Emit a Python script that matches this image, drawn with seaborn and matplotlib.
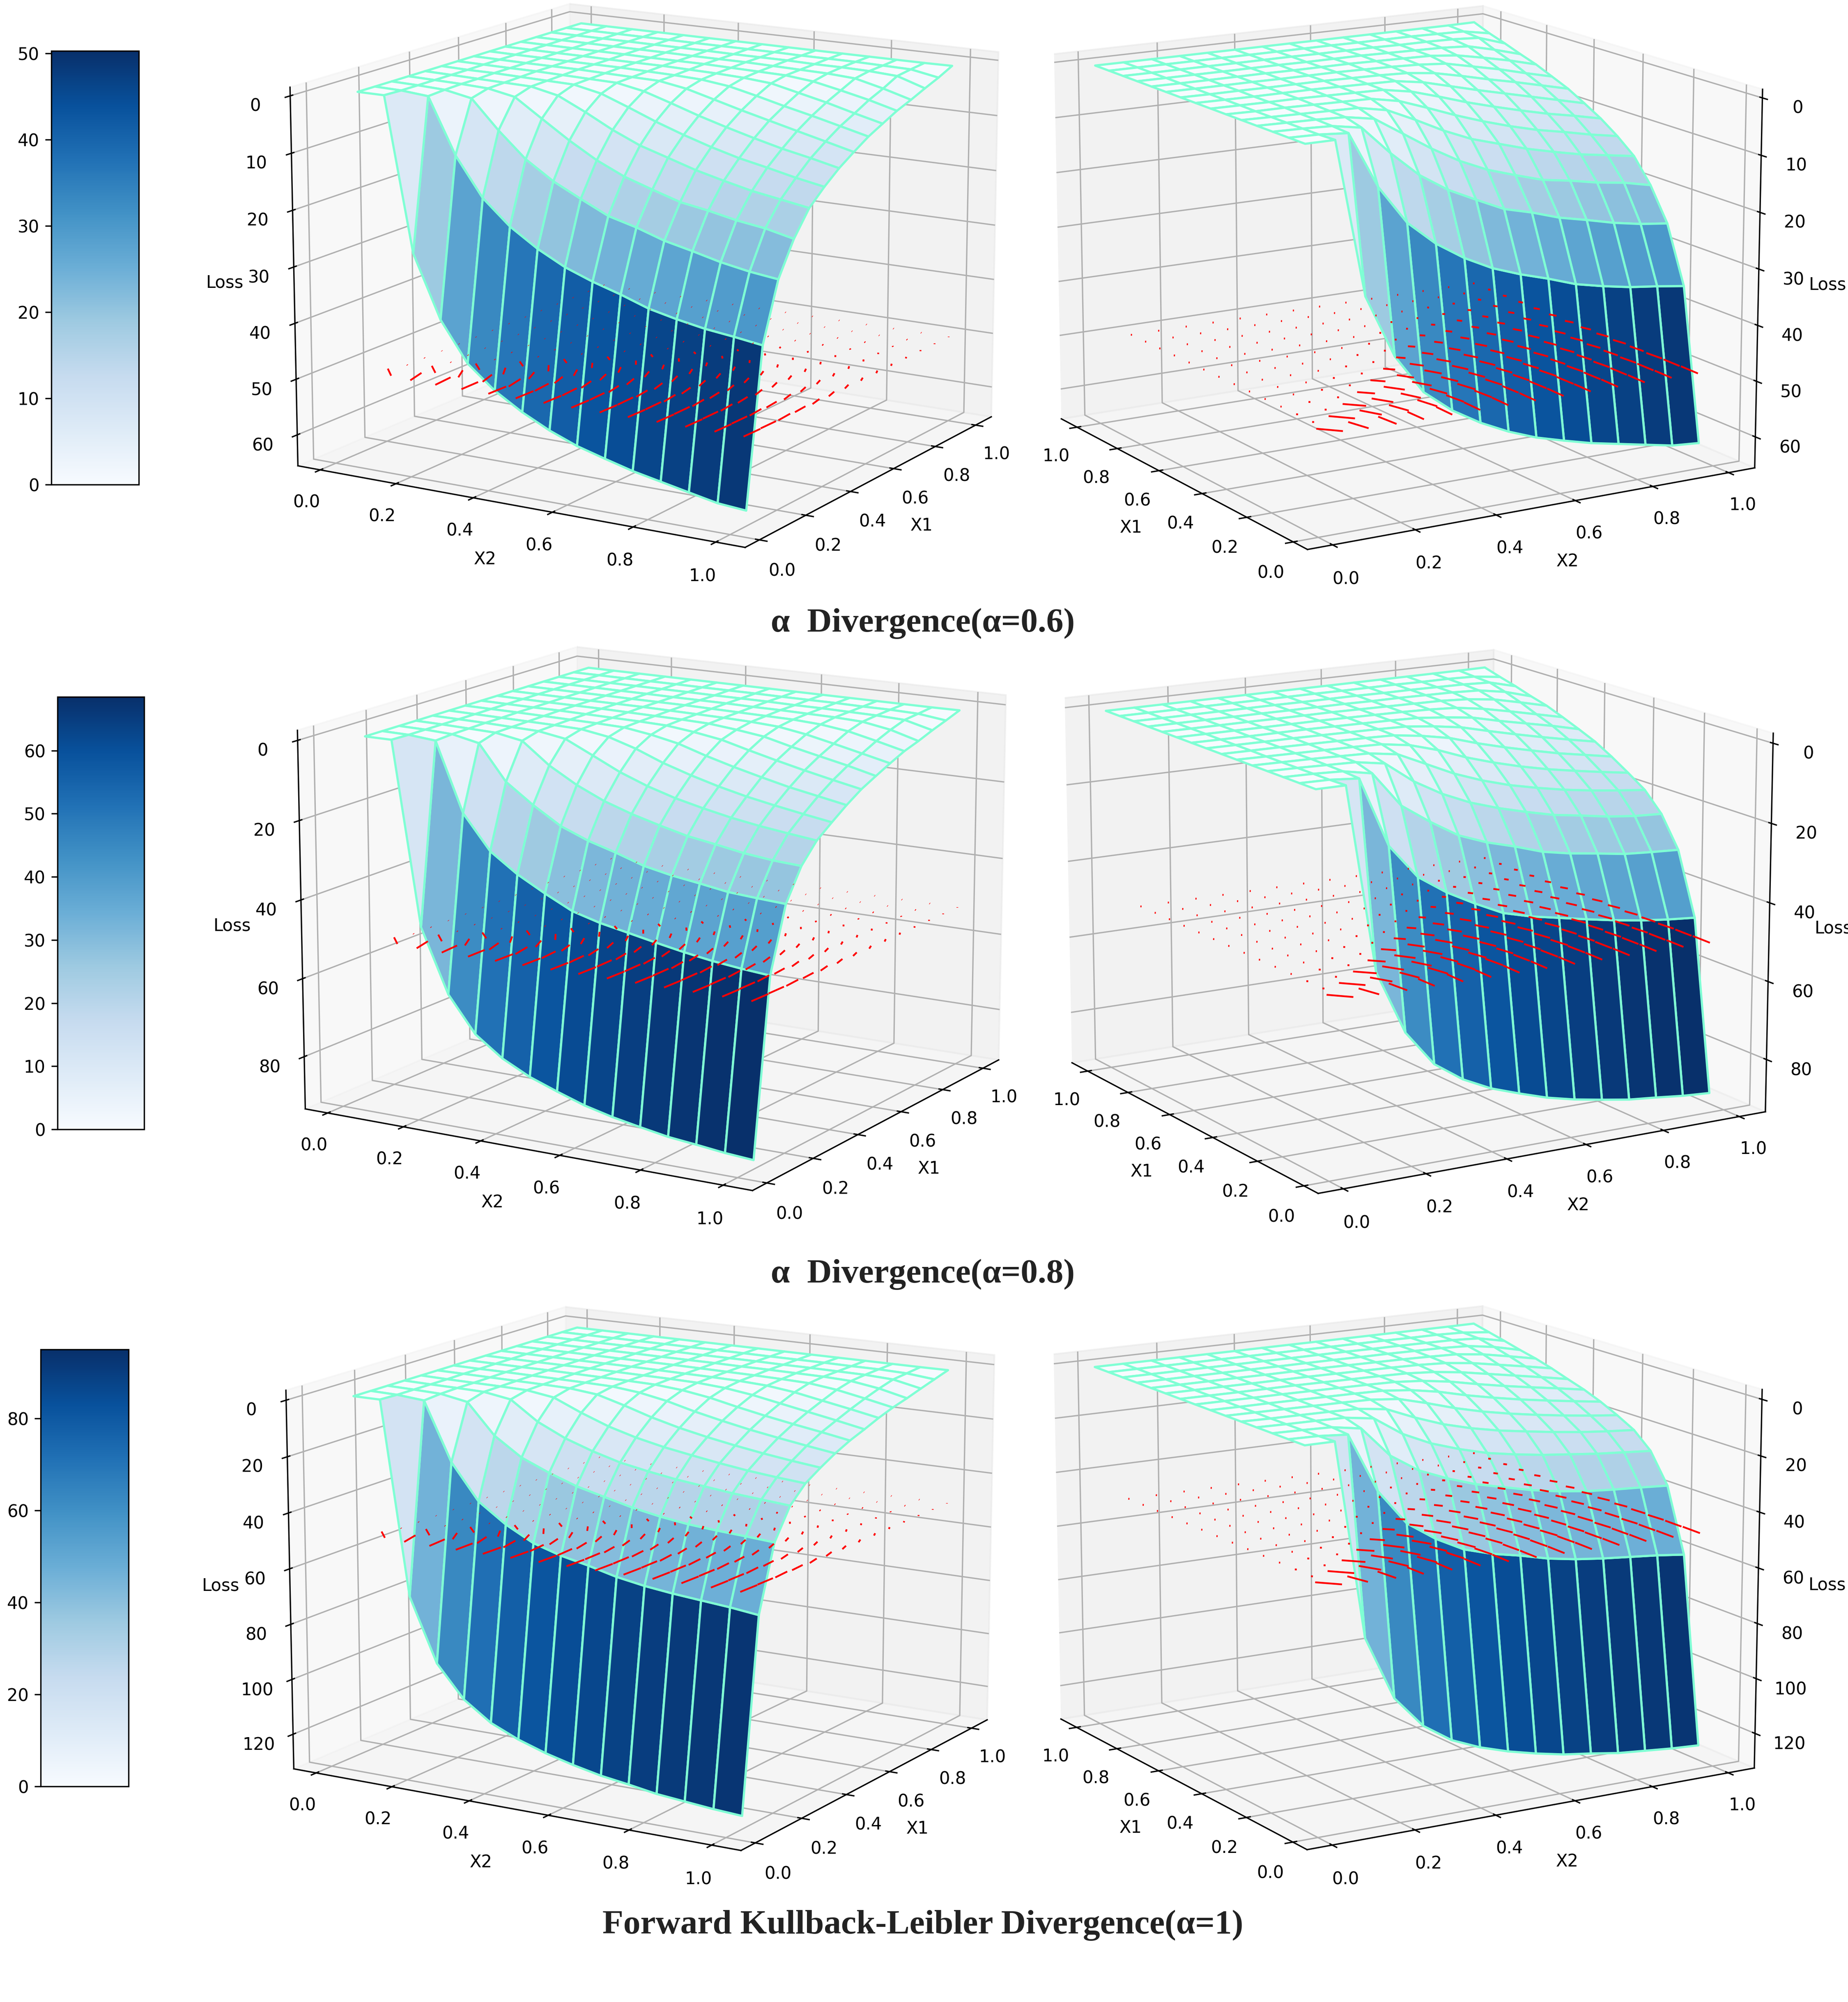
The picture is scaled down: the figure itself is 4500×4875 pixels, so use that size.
import numpy as np
import matplotlib
matplotlib.use("Agg")
import matplotlib.pyplot as plt
from matplotlib.cm import ScalarMappable
from matplotlib.colors import Normalize
import seaborn as sns

sns.reset_orig()

TITLES = ["α  Divergence(α=0.6)", "α  Divergence(α=0.8)", "Forward Kullback-Leibler Divergence(α=1)"]
LEFT_X2 = [.04,.109,.179,.248,.317,.386,.456,.525,.594,.664,.733,.802,.871,.941,1.01]
LEFT_X1 = [.05,.116,.181,.247,.313,.379,.444,.51,.576,.641,.707,.773,.839,.904,.97]
RIGHT_X2 = [.002,.073,.144,.215,.286,.357,.428,.499,.57,.641,.712,.783,.854,.925,.996]
RIGHT_X1 = [0.05, 0.118, 0.186, 0.254, 0.321, 0.389, 0.457, 0.525, 0.593, 0.661, 0.729, 0.796, 0.864, 0.932, 1.0]

LOSS_A = [
 [0,0,27,38,45,49,52,54.4,56.3,57.7,59,60,61,62,62.4],
 [0,.1,.5,10.2,17,21.3,24.5,27,28.8,30.3,32,33.1,34,34.6,35.3],
 [0,.1,.3,1.2,6.2,10.6,13.8,16.2,18.5,19.8,21.4,22.5,23.7,24.6,25.2],
 [0,.1,.2,.4,1.3,4.5,7.7,10.5,12.7,14.3,15.8,16.6,17.6,18.3,19.4],
 [0,.1,.2,.3,.4,1.4,3.7,6.2,8.3,9.8,11.3,12.5,13.6,14.4,15.2],
 [0,.1,.1,.2,.3,.4,1.4,3.2,5.1,6.8,8.3,9.6,10.6,11.7,12.6],
 [0,.05,.1,.1,.2,.3,.4,1.3,2.8,4.4,5.8,7.1,8.3,9.3,10.4],
 [0,.05,.1,.1,.1,.2,.3,.4,1.2,2.5,3.8,5,6.2,7.4,8.6],
 [0,.05,.05,.1,.1,.1,.2,.3,.5,1.1,2.2,3.4,4.5,5.7,6.9],
 [0,.03,.05,.05,.1,.1,.1,.2,.3,.5,.9,2,3.1,4.4,5.6],
 [0,.03,.05,.05,.05,.1,.1,.1,.2,.3,.4,.9,1.9,3,4.3],
 [0,.02,.03,.05,.05,.05,.1,.1,.1,.2,.3,.4,.7,1.9,3.3],
 [0,.02,.03,.03,.05,.05,.05,.1,.1,.1,.2,.2,.3,.6,2.2],
 [0,.01,.02,.03,.03,.05,.05,.05,.05,.1,.1,.1,.2,.3,1.2],
 [0,.01,.01,.02,.02,.03,.03,.03,.05,.05,.05,.05,.05,.05,0],
]
LOSS_B = [
 [0,0,46,62,71,76,79.5,82,84.3,86,87.3,88.5,89.2,90,90.5],
 [0,.1,.7,17.9,26.5,31.3,35.1,38.5,40.4,41.8,43.2,44.5,45.6,46.4,47],
 [0,.1,.4,1.8,10.6,15.5,19.8,22.5,24.5,26.8,28.2,29.2,30.3,30.8,31.2],
 [0,.1,.3,.5,1.7,7,11,14.1,16.4,18.3,20,21.1,22.3,23.1,23.5],
 [0,.1,.2,.4,.6,1.7,5,8.3,10.9,13,14.6,16,17.1,18,18.8],
 [0,.1,.2,.3,.4,.6,1.7,3.8,6.5,8.7,10.6,12.2,13.5,14.7,15.8],
 [0,.05,.1,.2,.3,.4,.6,1.6,3,5.2,7.1,8.8,10.4,11.7,13],
 [0,.05,.1,.1,.2,.3,.4,.6,1.4,2.5,4.3,6,7.6,9.1,10.5],
 [0,.05,.1,.1,.1,.2,.3,.4,.6,1.3,2.2,3.9,5.4,6.9,8.6],
 [0,.03,.05,.1,.1,.1,.2,.3,.4,.6,1,2.1,3.6,5.2,6.8],
 [0,.03,.05,.05,.1,.1,.1,.2,.3,.4,.5,.9,1.8,3.4,5.1],
 [0,.02,.03,.05,.05,.1,.1,.1,.2,.2,.3,.4,.7,1.9,3.9],
 [0,.02,.03,.03,.05,.05,.1,.1,.1,.2,.2,.3,.4,.7,2.5],
 [0,.01,.02,.03,.03,.05,.05,.05,.1,.1,.1,.2,.2,.4,1.3],
 [0,.01,.01,.02,.02,.03,.03,.03,.05,.05,.05,.05,.05,.05,0],
]
LOSS_C = [
 [0,0,68.7,91.3,102.7,109.5,113.8,117,119.5,121.6,123,124.6,125.5,126.4,127],
 [0,.2,1,21.6,34.2,41,46.2,49.2,51.3,53.8,55.5,56.7,57.6,58.5,59.7],
 [0,.2,.5,2.2,12.9,19.4,23.5,26.9,29.3,31.7,33.5,34.8,35.6,36.2,36.9],
 [0,.2,.3,.5,2,8.7,13.3,16.6,19.3,21.1,22.6,23.7,24.8,25.6,26.4],
 [0,.2,.3,.4,.6,2,6.2,9.8,12.5,14.6,16.2,17.7,19,20,20.8],
 [0,.1,.2,.3,.4,.6,1.6,4.3,7.3,9.8,11.8,13.5,15,16.3,17.4],
 [0,.1,.1,.2,.3,.4,.6,1.6,3.4,5.9,8,9.9,11.5,13,14.4],
 [0,.05,.1,.1,.2,.3,.4,.6,1.4,2.9,5,6.9,8.6,10.2,11.9],
 [0,.05,.1,.1,.1,.2,.3,.4,.6,1.3,2.6,4.4,6.2,8,9.9],
 [0,.03,.05,.1,.1,.1,.2,.3,.4,.6,1.1,2.3,4.1,5.9,7.8],
 [0,.03,.05,.05,.1,.1,.1,.2,.3,.4,.6,.9,2.1,4,6],
 [0,.02,.03,.05,.05,.1,.1,.1,.2,.2,.3,.4,.8,2.3,4.6],
 [0,.02,.03,.03,.05,.05,.1,.1,.1,.2,.2,.3,.4,.9,3],
 [0,.01,.02,.03,.03,.05,.05,.05,.1,.1,.1,.2,.2,.5,1.5],
 [0,.01,.01,.02,.02,.03,.03,.03,.05,.05,.05,.05,.05,.05,0],
]

STEP_X1 = [
 [.0445,.0633,.068,.0672,.0687,.0687,.0687,.0687,.0687,.0687,.0687,.0687,.0687,.0687],
 [.003,.0445,.0535,.0592,.0648,.0644,.0654,.0631,.0668,.0668,.066,.065,.065,.0645],
 [.003,.003,.039,.0489,.0527,.0533,.058,.0557,.057,.0598,.058,.058,.0575,.0574],
 [.002,.003,.003,.0296,.0443,.048,.0487,.05,.0511,.052,.0516,.052,.0518,.0516],
 [.002,.002,.003,.003,.0252,.0371,.0422,.0445,.046,.046,.0455,.045,.044,.0424],
 [.002,.002,.002,.003,.003,.02,.03,.035,.038,.0395,.0395,.039,.0385,.0383],
 [.002,.002,.002,.002,.003,.003,.016,.024,.028,.031,.032,.032,.032,.031],
 [.002,.002,.002,.002,.002,.003,.003,.012,.018,.021,.023,.024,.024,.0236],
 [.002,.002,.002,.002,.002,.002,.003,.003,.009,.014,.017,.019,.02,.0202],
 [.002,.002,.002,.002,.002,.002,.002,.003,.003,.007,.011,.014,.015,.016],
 [.002,.002,.002,.002,.002,.002,.002,.002,.003,.003,.005,.008,.011,.012],
 [.002,.002,.002,.002,.002,.002,.002,.002,.002,.002,.003,.004,.007,.009],
 [.002,.002,.002,.002,.002,.002,.002,.002,.002,.002,.002,.002,.003,.0063],
 [.002,.002,.002,.002,.002,.002,.002,.002,.002,.002,.002,.002,.002,.004],
]
STEP_X2 = [
 [-.039,-.013,-.005,-.0006,.0017,.0017,.0017,.0017,.0017,.0017,.0017,.0017,.0017,.0017],
 [-.003,-.039,-.0235,-.014,-.0107,-.0054,-.0038,-.0016,-.0015,-.001,-.0005,0,.0005,.0008],
 [-.003,-.003,-.0356,-.0252,-.0189,-.012,-.0103,-.0081,-.0057,-.0066,-.005,-.0045,-.004,-.0033],
 [-.002,-.003,-.003,-.0276,-.0269,-.0206,-.0138,-.0115,-.0098,-.0083,-.006,-.0055,-.004,-.0029],
 [-.002,-.002,-.003,-.003,-.0233,-.0212,-.0187,-.0147,-.0124,-.011,-.0095,-.0085,-.0075,-.0064],
 [-.002,-.002,-.002,-.003,-.003,-.019,-.018,-.016,-.014,-.012,-.0105,-.0095,-.0085,-.0074],
 [-.002,-.002,-.002,-.002,-.003,-.003,-.015,-.015,-.013,-.012,-.0105,-.0095,-.0085,-.0077],
 [-.002,-.002,-.002,-.002,-.002,-.003,-.003,-.012,-.012,-.011,-.0105,-.0095,-.0087,-.008],
 [-.002,-.002,-.002,-.002,-.002,-.002,-.003,-.003,-.009,-.0095,-.0095,-.009,-.0085,-.0078],
 [-.002,-.002,-.002,-.002,-.002,-.002,-.002,-.003,-.003,-.007,-.0075,-.0075,-.0072,-.0067],
 [-.002,-.002,-.002,-.002,-.002,-.002,-.002,-.002,-.003,-.003,-.005,-.0055,-.0055,-.0052],
 [-.002,-.002,-.002,-.002,-.002,-.002,-.002,-.002,-.002,-.002,-.003,-.004,-.0045,-.0046],
 [-.002,-.002,-.002,-.002,-.002,-.002,-.002,-.002,-.002,-.002,-.002,-.002,-.003,-.0032],
 [-.002,-.002,-.002,-.002,-.002,-.002,-.002,-.002,-.002,-.002,-.002,-.002,-.002,-.002],
]
QUIVER_X2 = [.082,.152,.223,.293,.364,.434,.505,.575,.646,.716,.787,.857,.928,.998]
QUIVER_X1 = [.094,.164,.233,.303,.373,.443,.512,.582,.652,.721,.791,.861,.93,1.0]

LOSSES = [LOSS_A, LOSS_B, LOSS_C]
VMAX = [50.3, 68.5, 95.0]
ZLIMS = [(65.6, -1.5), (93.5, -2.5), (132.7, -3.5)]
ZTICKS = [[0,10,20,30,40,50,60], [0,20,40,60,80], [0,20,40,60,80,100,120]]
CBAR_TICKS = [[0,10,20,30,40,50], [0,10,20,30,40,50,60], [0,20,40,60,80]]
PLANE = [50.0, 52.0, 50.0]
CB_BOX = [(125,338,124,1180), (140,351,1697,2750), (99,313,3286,4350)]
L_BOX = [(1560,652), (1578,2218), (1550,3825)]
R_BOX = [(3386,657), (3412,2225), (3385,3823)]
R_ZPAD = [1.8, 0.2, 1.8]
TITLE_Y = [1518, 3103, 4688]
SIDE = 1932
W, H = 4500, 4875

cmap = sns.color_palette("Blues", as_cmap=True)
fig = plt.figure(figsize=(15, 16.25), dpi=300)

def panel(cx, cy, k, azim, elev, x2_grid, x1_grid, zpad):
    ax = fig.add_axes([(cx-SIDE/2)/W, 1-(cy+SIDE/2)/H, SIDE/W, SIDE/H], projection="3d")
    ax.patch.set_alpha(0)
    X, Y = np.meshgrid(x2_grid, x1_grid)
    Z = np.array(LOSSES[k])
    ax.computed_zorder = False
    ax.plot_surface(X, Y, Z, rstride=1, cstride=1, cmap=cmap, vmin=0, vmax=VMAX[k],
                    edgecolor="aquamarine", linewidth=1.3, zorder=1, antialiased=True)
    QX, QY = np.meshgrid(QUIVER_X2, QUIVER_X1)
    ax.quiver(QX, QY, np.full_like(QX, PLANE[k]), np.array(STEP_X2), np.array(STEP_X1),
              np.zeros_like(QX), color="red", linewidth=1.05, arrow_length_ratio=0,
              pivot="middle", zorder=5)
    ax.set_xlim(-0.06, 1.07)
    ax.set_ylim(-0.06, 1.08)
    ax.set_zlim(*ZLIMS[k])
    ax.set_xticks([0,.2,.4,.6,.8,1.0])
    ax.set_yticks([0,.2,.4,.6,.8,1.0])
    ax.set_zticks(ZTICKS[k])
    ax.set_xlabel("X2")
    ax.set_ylabel("X1")
    ax.set_zlabel("Loss", labelpad=zpad)
    ax.zaxis.set_ticks_position("lower")
    ax.zaxis.set_label_position("lower")
    ax.view_init(elev=elev, azim=azim)
    return ax

for k in range(3):
    l, r, t, b = CB_BOX[k]
    cax = fig.add_axes([l/W, 1-b/H, (r-l)/W, (b-t)/H])
    cb = fig.colorbar(ScalarMappable(Normalize(0, VMAX[k]), cmap), cax=cax, ticks=CBAR_TICKS[k])
    cax.yaxis.set_ticks_position("left")
    panel(*L_BOX[k], k, -59, 14, LEFT_X2, LEFT_X1, 1.8)
    panel(*R_BOX[k], k, -121, 14, RIGHT_X2, RIGHT_X1, R_ZPAD[k])
    fig.text(2247/W, 1-TITLE_Y[k]/H, TITLES[k], ha="center", va="center", fontsize=20,
             fontweight="bold", family="Liberation Serif", color="#222222")

fig.savefig("out.png", dpi=300)
